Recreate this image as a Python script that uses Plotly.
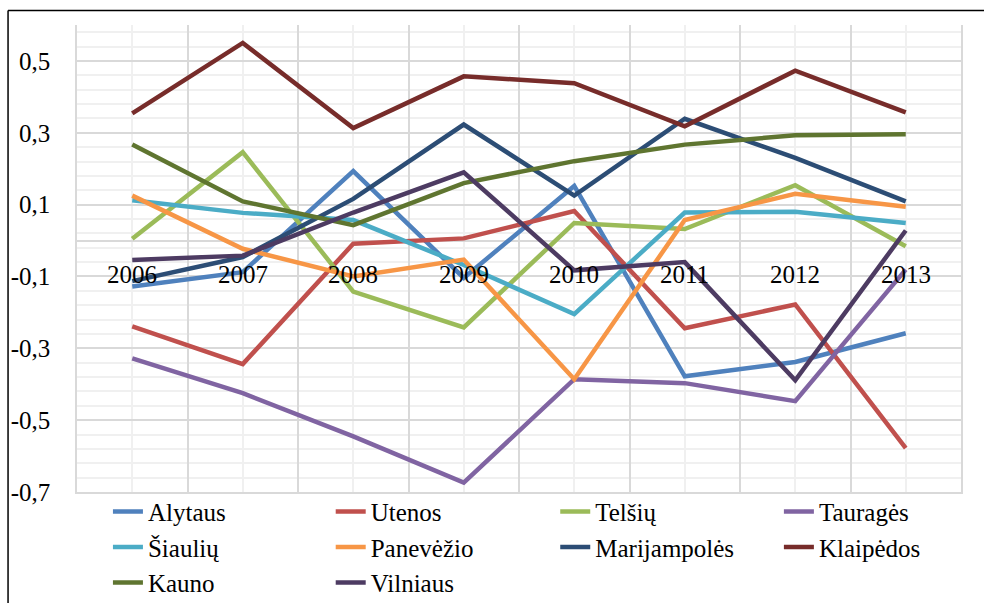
import plotly.graph_objects as go

years = ["2006", "2007", "2008", "2009", "2010", "2011", "2012", "2013"]
x_pos = list(range(len(years)))

alytaus      = [-0.128, -0.088, 0.193, -0.104, 0.152, -0.378, -0.338, -0.258]
utenos       = [-0.239, -0.344, -0.009, 0.006, 0.082, -0.244, -0.178, -0.578]
telsiu       = [0.005, 0.246, -0.142, -0.242, 0.049, 0.032, 0.154, -0.016]
taurages     = [-0.328, -0.425, -0.545, -0.674, -0.386, -0.397, -0.447, -0.081]
siauliu      = [0.112, 0.077, 0.057, -0.068, -0.205, 0.078, 0.080, 0.049]
panevezio    = [0.125, -0.023, -0.100, -0.053, -0.386, 0.057, 0.130, 0.094]
marijampoles = [-0.113, -0.046, 0.116, 0.323, 0.125, 0.339, 0.230, 0.109]
klaipedos    = [0.354, 0.550, 0.313, 0.457, 0.438, 0.318, 0.473, 0.357]
kauno        = [0.267, 0.109, 0.043, 0.160, 0.221, 0.267, 0.293, 0.296]
vilniaus     = [-0.054, -0.042, 0.078, 0.190, -0.083, -0.060, -0.389, 0.028]

# (name, values, colour, legend column)
series = [
    ("Alytaus", alytaus, "#4f81bd", "legend"),
    ("Utenos", utenos, "#c0504d", "legend2"),
    ("Telšių", telsiu, "#9bbb59", "legend3"),
    ("Tauragės", taurages, "#8064a2", "legend4"),
    ("Šiaulių", siauliu, "#4bacc6", "legend"),
    ("Panevėžio", panevezio, "#f79646", "legend2"),
    ("Marijampolės", marijampoles, "#2c4d75", "legend3"),
    ("Klaipėdos", klaipedos, "#772c2a", "legend4"),
    ("Kauno", kauno, "#5f7530", "legend"),
    ("Vilniaus", vilniaus, "#4d3b62", "legend2"),
]

y_ticks = [-0.7, -0.5, -0.3, -0.1, 0.1, 0.3, 0.5]
y_tick_text = ["-0,7", "-0,5", "-0,3", "-0,1", "0,1", "0,3", "0,5"]
label_level = -0.1

FONT = "Times New Roman, Liberation Serif, serif"
MAJ = "#d9d9d9"
MIN = "#f0f0f0"

fig = go.Figure()
for name, vals, col, lg in series:
    fig.add_trace(go.Scatter(x=x_pos, y=vals, name=name, mode="lines",
                             line=dict(color=col, width=4.5), legend=lg))

for i, yr in enumerate(years):
    fig.add_annotation(x=x_pos[i], y=label_level, xref="x", yref="y", text=yr,
                       showarrow=False, font=dict(family=FONT, size=25, color="black"),
                       xanchor="center", yanchor="middle", yshift=2)

legend_x = [0.035, 0.287, 0.541, 0.794]
legend_common = dict(orientation="v", y=0.007, xanchor="left", yanchor="top",
                     font=dict(family=FONT, size=25, color="black"),
                     bgcolor="rgba(0,0,0,0)", tracegroupgap=0, itemwidth=30)

fig.update_layout(
    width=984, height=603,
    margin=dict(l=77, r=23, t=25, b=111, autoexpand=False),
    paper_bgcolor="white", plot_bgcolor="white",
    font=dict(family=FONT, size=25, color="black"),
    showlegend=True,
    legend=dict(x=legend_x[0], **legend_common),
    legend2=dict(x=legend_x[1], **legend_common),
    legend3=dict(x=legend_x[2], **legend_common),
    legend4=dict(x=legend_x[3], **legend_common),
    xaxis=dict(range=[-0.5, 7.5], tickmode="linear", tick0=-0.5, dtick=1,
               showticklabels=False, showgrid=True, gridcolor=MAJ, gridwidth=1.5,
               minor=dict(tickmode="linear", tick0=-0.5, dtick=0.5, showgrid=True,
                          gridcolor=MIN, gridwidth=1.5, ticks=""),
               zeroline=False, showline=True, linecolor=MAJ, linewidth=1.5,
               ticks=""),
    yaxis=dict(range=[-0.7, 0.6], tickmode="array", tickvals=y_ticks,
               ticktext=y_tick_text, showgrid=True, gridcolor=MAJ, gridwidth=1.5,
               minor=dict(tickmode="linear", tick0=-0.7, dtick=0.04, showgrid=True,
                          gridcolor=MIN, gridwidth=1.5, ticks=""),
               zeroline=True, zerolinecolor=MAJ, zerolinewidth=1.5,
               showline=True, mirror=True, linecolor=MAJ, linewidth=1.5,
               ticks="", ticklabelstandoff=20,
               tickfont=dict(family=FONT, size=25, color="black")),
)

# outer frame (top and left border of the chart area)
fig.add_shape(type="line", xref="paper", yref="paper", x0=-0.078, x1=1.05,
              y0=1.031, y1=1.031, line=dict(color="black", width=1.5))
fig.add_shape(type="line", xref="paper", yref="paper", x0=-0.078, x1=-0.078,
              y0=1.031, y1=-0.26, line=dict(color="black", width=1.5))

fig.write_html("out.html")
